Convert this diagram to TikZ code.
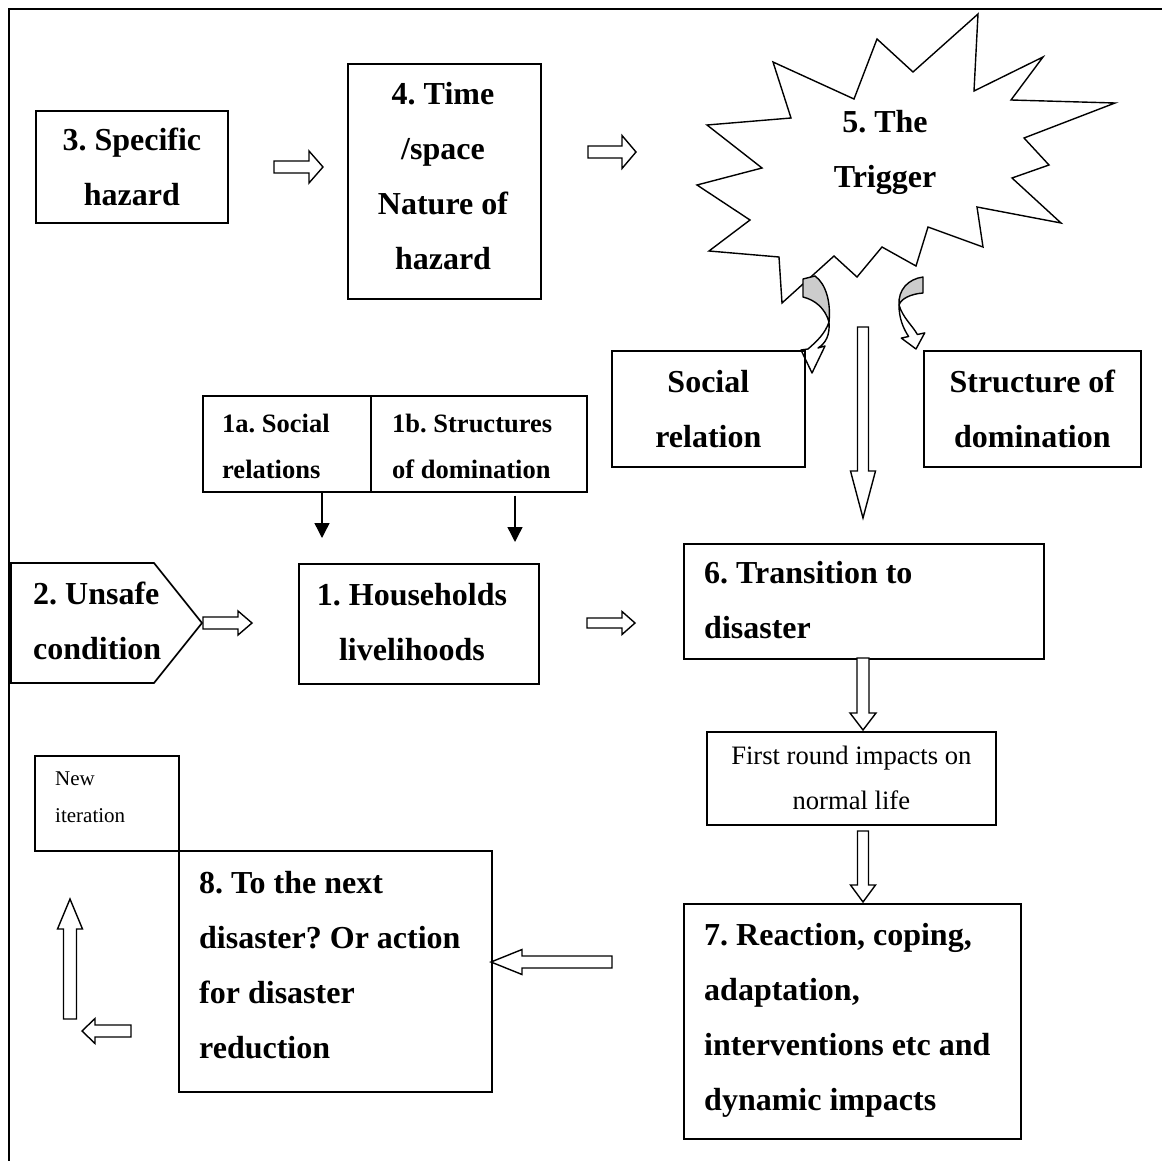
\documentclass[tikz,border=0pt]{standalone}
\usepackage{fontspec}
\setmainfont{Liberation Serif}
\usetikzlibrary{arrows.meta}
\newcommand{\bigf}{\fontsize{32}{55}\selectfont\bfseries\frenchspacing}
\newcommand{\midf}{\fontsize{26.5}{46}\selectfont\bfseries\frenchspacing}
\newcommand{\regf}{\fontsize{26.6}{45}\selectfont\frenchspacing}
\newcommand{\smlf}{\fontsize{21}{37}\selectfont\frenchspacing}
% horizontal block arrow: tail x, head-base x, tip x, y, shaft half width, head half width
\newcommand{\harr}[6]{\draw[blk] ({#1},{#4-#5}) -- ({#2},{#4-#5}) -- ({#2},{#4-#6}) -- ({#3},{#4}) -- ({#2},{#4+#6}) -- ({#2},{#4+#5}) -- ({#1},{#4+#5}) -- cycle;}
% vertical block arrow: x, tail y, head-base y, tip y, shaft half width, head half width
\newcommand{\varr}[6]{\draw[blk] ({#1-#5},{#2}) -- ({#1-#5},{#3}) -- ({#1-#6},{#3}) -- ({#1},{#4}) -- ({#1+#6},{#3}) -- ({#1+#5},{#3}) -- ({#1+#5},{#2}) -- cycle;}
\begin{document}
\frenchspacing
\begin{tikzpicture}[x=1pt,y=-1pt,
  box/.style={draw, line width=1.7pt, inner sep=0pt, anchor=north west, align=center},
  blk/.style={draw, fill=white, line width=1.4pt, line join=miter},
  txt/.style={inner sep=0pt, anchor=west, align=left},
  ctxt/.style={inner sep=0pt, align=center},
  thin/.style={line width=1.4pt},
  ]
\useasboundingbox (0,0) rectangle (1162,1161);
% outer frame
\draw[line width=1.7pt] (9,1161) -- (9,9) -- (1162,9);

% 3. Specific hazard
\node[box, minimum width=192pt, minimum height=112pt, font=\bigf] (b3) at (35,110) {3. Specific\\hazard};
% 4. Time / space
\node[box, minimum width=193pt, minimum height=235pt] (b4) at (347,63) {};
\node[ctxt, font=\bigf] (t4) at (443,176) {4. Time\\/space\\Nature of\\hazard};
\harr{274}{309}{323}{167}{6}{16}
\harr{588}{622}{636}{152}{6}{16.5}

% 5. The Trigger (star)
\draw[thin, fill=white] (978,14) -- (974,91) -- (1043,57) -- (1011,100) -- (1115,103) -- (1024,138) -- (1049,165) -- (1012,178) -- (1061,223) -- (977,207) -- (983,247) -- (928,227) -- (916,266) -- (882,247) -- (857,277) -- (834,256) -- (782,303) -- (779,257) -- (709,251) -- (750,220) -- (697,185) -- (762,168) -- (707,125) -- (791,118) -- (773,62) -- (854,99) -- (877,39) -- (913,72) -- cycle;
\node[ctxt, font=\bigf] (trig) at (885,152) {5. The\\Trigger};

% curved arrows below the trigger
\draw[thin, line join=round, fill=gray!40] (803,279) -- (803,297) .. controls (815,300) and (825,308) .. (829,322) .. controls (831,302) and (826,284) .. (815,276) -- cycle;
\draw[thin, line join=round, fill=white] (829,322) .. controls (830,335) and (826,343) .. (818,348) -- (825,346) -- (812,373) -- (801,350) -- (808,349) .. controls (816,342) and (825,334) .. (829,322) -- cycle;
\draw[thin, line join=round, fill=gray!40] (923,277) .. controls (908,279) and (898,290) .. (899,305) .. controls (901,299) and (910,294) .. (923,293) -- cycle;
\draw[thin, line join=round, fill=white] (899,305) .. controls (899,318) and (903,328) .. (908.6,336.5) -- (901.3,338.1) -- (916,349) -- (924.7,332.9) -- (917.4,334.5) .. controls (912,325) and (903,318) .. (899,305) -- cycle;

% Social relation / Structure of domination
\node[box, minimum width=193pt, minimum height=116pt, font=\bigf] (bsr) at (611,350) {Social\\relation};
\node[box, minimum width=217pt, minimum height=116pt, font=\bigf] (bsd) at (923,350) {Structure of\\domination};

% big down arrow trigger -> transition
\varr{863}{327}{471}{518}{5.5}{12.5}

% 1a / 1b
\node[box, minimum width=168pt, minimum height=96pt] (b1a) at (202,395) {};
\node[box, minimum width=216pt, minimum height=96pt] (b1b) at (370,395) {};
\node[txt, font=\midf] (t1a) at (222,446) {1a. Social\\relations};
\node[txt, font=\midf] (t1b) at (392,446) {1b. Structures\\of domination};
\coordinate (h1a) at (322,538);
\coordinate (h1b) at (515,542);
\draw[thin, -{Triangle[length=15pt,width=15pt]}] (b1a.south -| h1a) -- (h1a);
\draw[thin, -{Triangle[length=15pt,width=15pt]}] ([yshift=-3pt]b1b.south -| h1b) -- (h1b);

% 1. Households livelihoods
\node[box, minimum width=240pt, minimum height=120pt] (b1) at (298,563) {};
\node[ctxt, font=\bigf] (t1) at (412,622) {1. Households\\livelihoods};

% 2. Unsafe condition
\draw[line width=1.7pt, line join=miter] (11,563) -- (154,563) -- (202,623) coordinate (p2) -- (154,683) -- (11,683) -- cycle;
\node[txt, font=\bigf] (t2) at (33,621) {2. Unsafe\\condition};
\harr{203}{238}{252}{623}{6}{12}
\harr{587}{622}{635}{623}{5}{11.5}

% 6. Transition to disaster
\node[box, minimum width=360pt, minimum height=115pt] (b6) at (683,543) {};
\node[txt, font=\bigf] (t6) at (704,600) {6. Transition to\\disaster};
\varr{863}{658}{713}{730}{6}{13}

% First round impacts
\node[box, minimum width=289pt, minimum height=93pt, font=\regf] (bfr) at (706,731) {First round impacts on\\normal life};
\varr{863}{831}{885}{902}{5.5}{12.5}

% 7. Reaction
\node[box, minimum width=337pt, minimum height=235pt] (b7) at (683,903) {};
\node[txt, font=\bigf] (t7) at (704,1020) {7. Reaction, coping,\\adaptation,\\interventions etc and\\dynamic impacts};
\harr{612}{522}{491}{962}{6}{12.5}

% 8. To the next disaster
\node[box, minimum width=313pt, minimum height=241pt] (b8) at (178,850) {};
\node[txt, font=\bigf] (t8) at (199,965) {8. To the next\\disaster? Or action\\for disaster\\reduction};

% New iteration
\node[box, minimum width=144pt, minimum height=95pt] (bni) at (34,755) {};
\node[txt, font=\smlf] (tni) at (55,797) {New\\iteration};
\varr{70}{1019}{929}{899}{6.5}{12.5}
\harr{131}{95}{82}{1031}{6}{12.5}
\end{tikzpicture}
\end{document}
